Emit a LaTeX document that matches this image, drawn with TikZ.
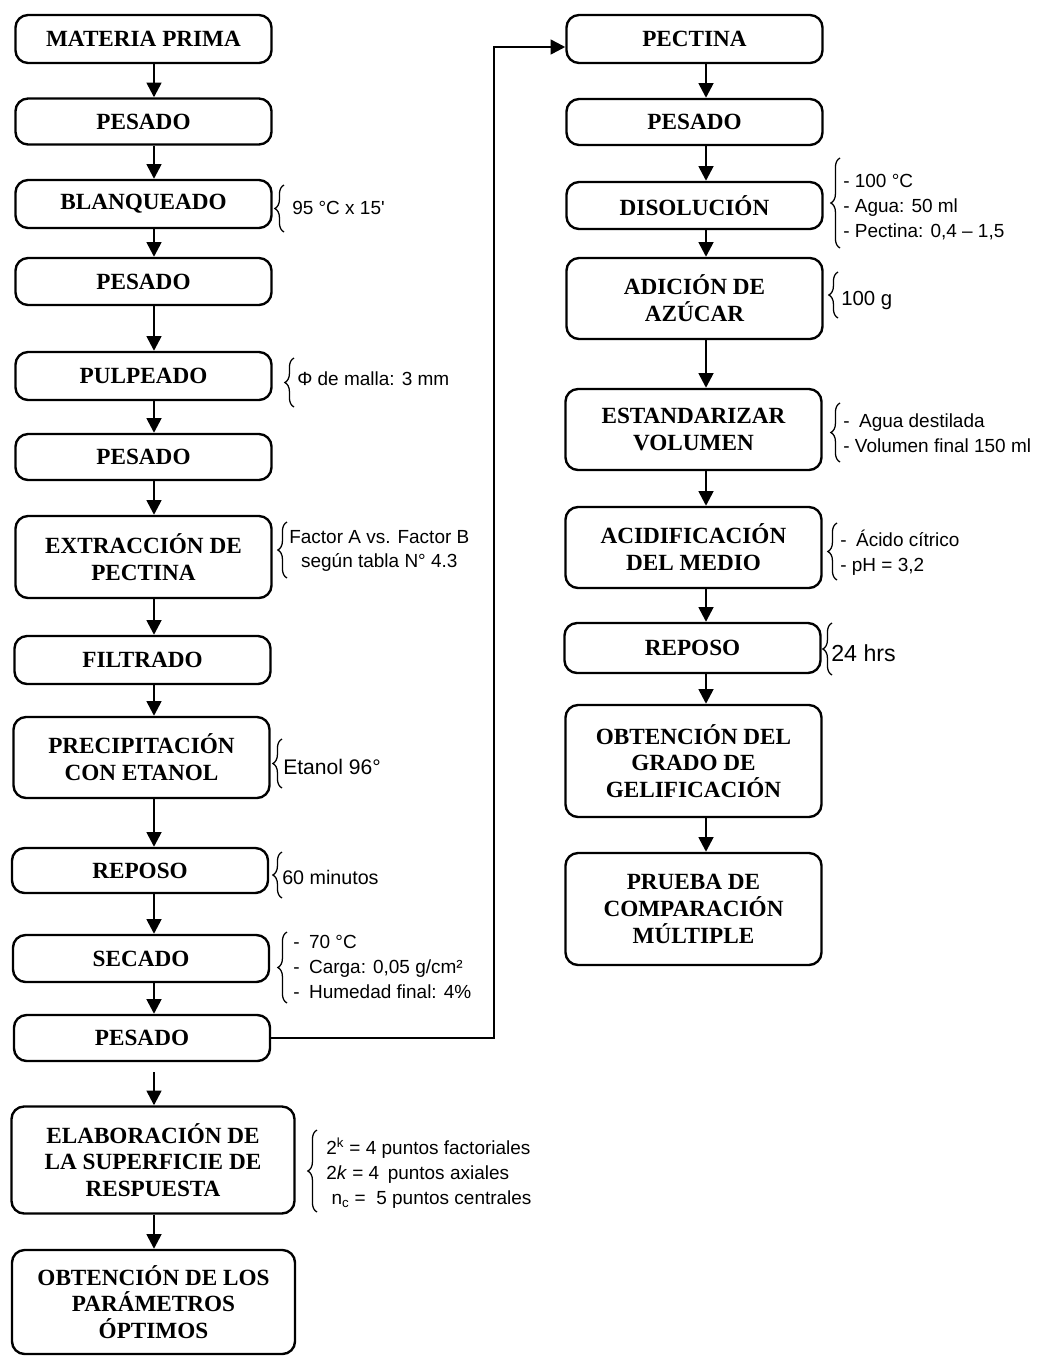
\documentclass[tikz,border=0pt]{standalone}
\usepackage{fontspec}
\setmainfont{Liberation Serif}
\newfontfamily\notas{Liberation Sans}
\usetikzlibrary{arrows.meta,decorations.pathreplacing}

\tikzset{
  caja/.style={draw, line width=1.7pt, rounded corners=9pt, align=center,
    minimum width=6.4cm, inner sep=2pt,
    font=\bfseries\fontsize{16.5}{19}\selectfont},
  cajaancha/.style={caja, minimum width=7.075cm},
  flecha/.style={line width=1.8pt, -{Triangle[width=10.5pt,length=10.5pt]}},
  llave/.style={line width=0.9pt, decorate, decoration={brace, amplitude=6.5pt}},
  nota/.style={anchor=west, inner sep=0pt, align=left,
    font=\notas\fontsize{13.5}{17.5}\selectfont}
}

\begin{document}
\begin{tikzpicture}[x=0.025cm, y=-0.025cm]
    \useasboundingbox (0,0) rectangle (1040,1356);

    % Primera columna: obtencion de la pectina
    \node[caja, minimum height=1.2cm]   (mp)    at (143.5,39)   {MATERIA PRIMA};
    \node[caja, minimum height=1.15cm]  (pes1)  at (143.5,121.5) {PESADO};
    \node[caja, minimum height=1.2cm]   (blan)  at (143.5,204)  {BLANQUEADO};
    \node[caja, minimum height=1.175cm] (pes2)  at (143.5,281.5) {PESADO};
    \node[caja, minimum height=1.2cm]   (pulp)  at (143.5,376)  {PULPEADO};
    \node[caja, minimum height=1.15cm]  (pes3)  at (143.5,457)  {PESADO};
    \node[caja, minimum height=2.05cm]  (extr)  at (143.5,557)  {EXTRACCIÓN DE\\PECTINA};
    \node[caja, minimum height=1.2cm]   (filt)  at (142.5,660)  {FILTRADO};
    \node[caja, minimum height=2.025cm] (prec)  at (141.5,757.5) {PRECIPITACIÓN\\CON ETANOL};
    \node[caja, minimum height=1.125cm] (rep1)  at (140,870.5)  {REPOSO};
    \node[caja, minimum height=1.175cm] (sec)   at (141,958.5)  {SECADO};
    \node[caja, minimum height=1.15cm]  (pes4)  at (142,1038)   {PESADO};
    \node[cajaancha, minimum height=2.675cm] (elab)  at (153,1160)  {ELABORACIÓN DE\\LA SUPERFICIE DE\\RESPUESTA};
    \node[cajaancha, minimum height=2.6cm]   (optim) at (153.5,1302) {OBTENCIÓN DE LOS\\PARÁMETROS\\ÓPTIMOS};

    % Segunda columna: prueba de gelificacion
    \node[caja, minimum height=1.2cm]   (pec)    at (694.5,39)   {PECTINA};
    \node[caja, minimum height=1.15cm]  (pes5)   at (694.5,122)  {PESADO};
    \node[caja, minimum height=1.175cm] (diso)   at (694.5,205.5) {DISOLUCIÓN};
    \node[caja, minimum height=2.025cm] (adic)   at (694.5,298.5) {ADICIÓN DE\\AZÚCAR};
    \node[caja, minimum height=2.025cm] (estd)   at (693.5,429.5) {ESTANDARIZAR\\VOLUMEN};
    \node[caja, minimum height=2.025cm] (acid)   at (693.5,547.5) {ACIDIFICACIÓN\\DEL MEDIO};
    \node[caja, minimum height=1.25cm]  (rep2)   at (692.5,648)  {REPOSO};
    \node[caja, minimum height=2.8cm]   (grad)   at (693.5,761)  {OBTENCIÓN DEL\\GRADO DE\\GELIFICACIÓN};
    \node[caja, minimum height=2.8cm]   (prueba) at (693.5,909)  {PRUEBA DE\\COMPARACIÓN\\MÚLTIPLE};

    % Ejes de las flechas
    \coordinate (ejeL) at (154,0);
    \coordinate (ejeR) at (706,0);
    \coordinate (giro) at (494,47);

    \foreach \a/\b in {mp/pes1, pes1/blan, blan/pes2, pes2/pulp, pulp/pes3,
                       pes3/extr, extr/filt, filt/prec, prec/rep1, rep1/sec,
                       sec/pes4, elab/optim}
        \draw[flecha] (\a.south -| ejeL) -- (\b.north -| ejeL);
    \draw[flecha, shorten <=0.25cm] (pes4.south -| ejeL) -- (elab.north -| ejeL);

    \foreach \a/\b in {pec/pes5, pes5/diso, diso/adic, adic/estd, estd/acid,
                       acid/rep2, rep2/grad, grad/prueba}
        \draw[flecha] (\a.south -| ejeR) -- (\b.north -| ejeR);

    % Paso de una columna a la otra
    \draw[flecha] (pes4.east) -- (pes4.east -| giro) -- (giro) -- (giro -| pec.west);

    % Llaves
    \foreach \x/\ya/\yb in {284/185/232, 294/358/407, 287/522/578, 282/739/788,
                            282/852/898, 287/932/1003, 317/1130/1212,
                            840/158/248, 838/272/318, 840/403/462,
                            837/523/580, 832/623/675}
        \draw[llave] (\x,\yb) -- (\x,\ya);

    % Condiciones de cada etapa
    \node[nota] (n1) at (292,208) {95 °C x 15'};
    \node[nota] (n2) at (297,379) {Φ de malla: 3 mm};
    \node[nota, align=center] (n3) at (289,551) {Factor A vs. Factor B\\según tabla N° 4.3};
    \node[nota, font=\notas\fontsize{15}{17}\selectfont] (n4) at (283,767) {Etanol 96°};
    \node[nota, font=\notas\fontsize{14}{17}\selectfont] (n5) at (282,877) {60 minutos};
    \node[nota] (n6) at (293,967) {-\enspace 70 °C\\-\enspace Carga: 0,05 g/cm²\\-\enspace Humedad final: 4\%};
    \node[nota] (n7) at (326,1173) {2\textsuperscript{k} = 4 puntos factoriales\\2\textit{k} = 4 \,puntos axiales\\\ n\textsubscript{c} = \ 5 puntos centrales};
    \node[nota] (n8) at (843,207) {- 100 °C\\- Agua: 50 ml\\- Pectina: 0,4 – 1,5};
    \node[nota, font=\notas\fontsize{14.5}{17}\selectfont] (n9) at (841,300) {100 g};
    \node[nota] (n10) at (843,433) {-\enspace Agua destilada\\- Volumen final 150 ml};
    \node[nota] (n11) at (840,553) {-\enspace Ácido cítrico\\- pH = 3,2};
    \node[nota, font=\notas\fontsize{16.5}{19}\selectfont] (n12) at (831,653) {24 hrs};

\end{tikzpicture}
\end{document}
